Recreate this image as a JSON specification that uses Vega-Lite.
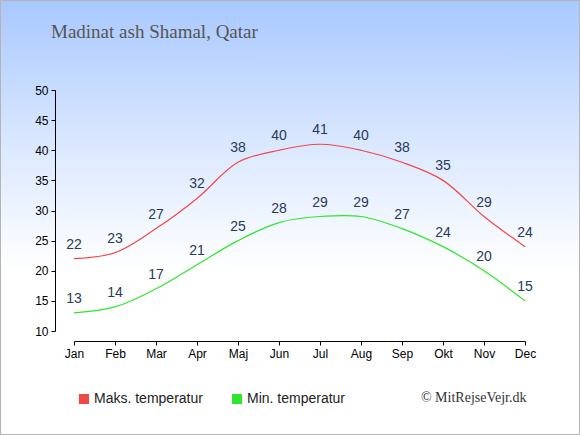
{
  "$schema": "https://vega.github.io/schema/vega-lite/v6.json",
  "width": 580,
  "height": 435,
  "autosize": "none",
  "padding": 0,
  "background": "#ffffff",
  "title": {
    "text": "Madinat ash Shamal, Qatar",
    "anchor": "start",
    "frame": "group",
    "orient": "top",
    "offset": 0,
    "dx": 51,
    "dy": 57,
    "baseline": "alphabetic",
    "font": "Liberation Serif",
    "fontSize": 19,
    "fontWeight": "normal",
    "color": "#555555"
  },
  "data": {
    "values": [
      {"month": "Jan", "series": "Maks. temperatur", "temp": 22},
      {"month": "Feb", "series": "Maks. temperatur", "temp": 23},
      {"month": "Mar", "series": "Maks. temperatur", "temp": 27},
      {"month": "Apr", "series": "Maks. temperatur", "temp": 32},
      {"month": "Maj", "series": "Maks. temperatur", "temp": 38},
      {"month": "Jun", "series": "Maks. temperatur", "temp": 40},
      {"month": "Jul", "series": "Maks. temperatur", "temp": 41},
      {"month": "Aug", "series": "Maks. temperatur", "temp": 40},
      {"month": "Sep", "series": "Maks. temperatur", "temp": 38},
      {"month": "Okt", "series": "Maks. temperatur", "temp": 35},
      {"month": "Nov", "series": "Maks. temperatur", "temp": 29},
      {"month": "Dec", "series": "Maks. temperatur", "temp": 24},
      {"month": "Jan", "series": "Min. temperatur", "temp": 13},
      {"month": "Feb", "series": "Min. temperatur", "temp": 14},
      {"month": "Mar", "series": "Min. temperatur", "temp": 17},
      {"month": "Apr", "series": "Min. temperatur", "temp": 21},
      {"month": "Maj", "series": "Min. temperatur", "temp": 25},
      {"month": "Jun", "series": "Min. temperatur", "temp": 28},
      {"month": "Jul", "series": "Min. temperatur", "temp": 29},
      {"month": "Aug", "series": "Min. temperatur", "temp": 29},
      {"month": "Sep", "series": "Min. temperatur", "temp": 27},
      {"month": "Okt", "series": "Min. temperatur", "temp": 24},
      {"month": "Nov", "series": "Min. temperatur", "temp": 20},
      {"month": "Dec", "series": "Min. temperatur", "temp": 15}
    ]
  },
  "encoding": {
    "x": {
      "field": "month",
      "type": "ordinal",
      "sort": null,
      "scale": {"type": "point", "range": [74, 525], "padding": 0},
      "axis": {
        "offset": -94,
        "labelAngle": 0,
        "labelPadding": 3,
        "tickSize": 4,
        "title": "© MitRejseVejr.dk",
        "titleX": 526,
        "titleY": 56,
        "titleAlign": "right",
        "titleAnchor": null,
        "titleBaseline": "middle",
        "titleFont": "Liberation Serif",
        "titleFontSize": 14,
        "titleFontWeight": "normal",
        "titleColor": "#333333"
      }
    },
    "y": {
      "field": "temp",
      "type": "quantitative",
      "scale": {"domain": [10, 50], "range": [331, 90], "nice": false, "zero": false},
      "axis": {
        "offset": -55,
        "values": [10, 15, 20, 25, 30, 35, 40, 45, 50],
        "tickSize": 4,
        "labelPadding": 3,
        "grid": false,
        "title": null
      }
    }
  },
  "layer": [
    {
      "mark": {"type": "line", "interpolate": "catmull-rom", "strokeWidth": 1.2},
      "encoding": {
        "color": {
          "field": "series",
          "type": "nominal",
          "scale": {
            "domain": ["Maks. temperatur", "Min. temperatur"],
            "range": ["#f04848", "#2ee62e"]
          },
          "legend": {
            "orient": "none",
            "legendX": 77,
            "legendY": 392,
            "direction": "horizontal",
            "title": null,
            "symbolType": "square",
            "symbolSize": 100,
            "symbolStrokeWidth": 0,
            "symbolOpacity": 1,
            "labelFont": "Liberation Sans",
            "labelFontSize": 14,
            "labelColor": "#222222",
            "labelOffset": 3,
            "columnPadding": 27,
            "padding": 0,
            "encode": {
              "symbols": {
                "update": {
                  "fill": {"scale": "color", "field": "value"},
                  "fillOpacity": {"value": 1}
                }
              }
            }
          }
        }
      }
    },
    {
      "mark": {
        "type": "text",
        "dy": -14,
        "baseline": "middle",
        "align": "center",
        "font": "Liberation Sans",
        "fontSize": 14,
        "color": "#2a3a58"
      },
      "encoding": {
        "text": {"field": "temp", "type": "quantitative"}
      }
    }
  ],
  "config": {
    "view": {
      "fill": {
        "gradient": "linear",
        "x1": 0, "y1": 0, "x2": 0, "y2": 1,
        "stops": [
          {"offset": 0, "color": "#a8c8ff"},
          {"offset": 0.3, "color": "#d6e5ff"},
          {"offset": 0.62, "color": "#ffffff"},
          {"offset": 1, "color": "#ffffff"}
        ]
      },
      "stroke": "#b4b4b4",
      "strokeWidth": 2
    },
    "axis": {
      "domainColor": "#000000",
      "tickColor": "#000000",
      "labelColor": "#000000",
      "labelFont": "Liberation Sans",
      "labelFontSize": 12,
      "grid": false
    }
  }
}
